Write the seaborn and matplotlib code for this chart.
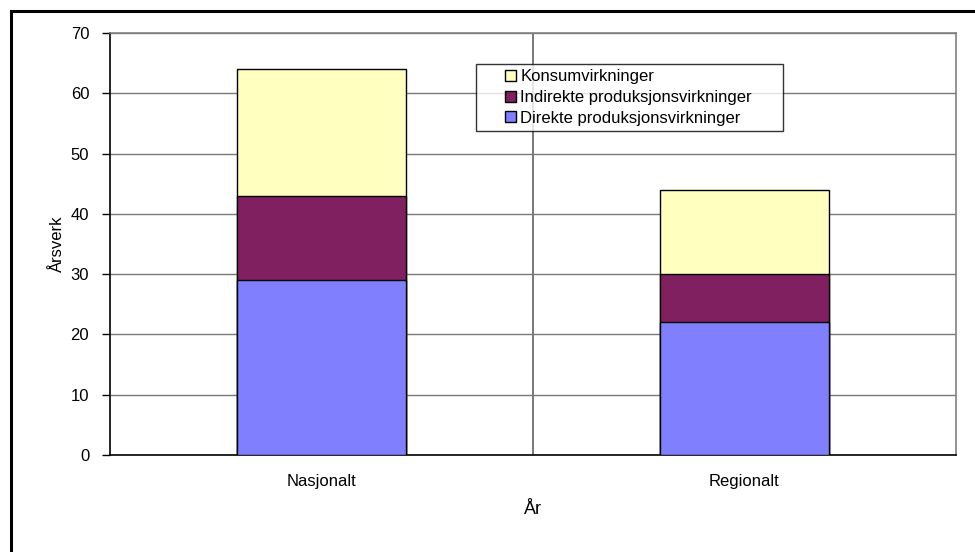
import matplotlib
matplotlib.use("Agg")
import matplotlib.pyplot as plt
from matplotlib.patches import Rectangle
from matplotlib.legend_handler import HandlerPatch
import seaborn as sns
import pandas as pd

categories = ["Nasjonalt", "Regionalt"]
direkte = [29, 22]
indirekte = [14, 8]
konsum = [21, 14]
series_names = ["Konsumvirkninger", "Indirekte produksjonsvirkninger", "Direkte produksjonsvirkninger"]
colors = {"Konsumvirkninger": "#FFFFC0",
          "Indirekte produksjonsvirkninger": "#802060",
          "Direkte produksjonsvirkninger": "#8080FF"}
yticks = [0, 10, 20, 30, 40, 50, 60, 70]

sns.set_theme(style="white")
plt.rcParams["font.family"] = ["Liberation Sans", "DejaVu Sans"]
plt.rcParams["text.color"] = "black"
plt.rcParams["axes.labelcolor"] = "black"
plt.rcParams["xtick.color"] = "black"
plt.rcParams["ytick.color"] = "black"

fig = plt.figure(figsize=(9.75, 5.52), dpi=100)
ax = fig.add_axes([110 / 975, 1 - 455 / 552, 846 / 975, 422 / 552])

# outer frame (cropped at right and bottom in the reference)
fig.patches.append(Rectangle((11 / 975, -0.1), 1.2, 1 - 11 / 552 + 0.1,
                             transform=fig.transFigure, fill=False,
                             edgecolor="black", linewidth=2.2, zorder=0))

cum_ind = [d + i for d, i in zip(direkte, indirekte)]
cum_kon = [c + k for c, k in zip(cum_ind, konsum)]
df = pd.DataFrame({"cat": categories, "Direkte": direkte,
                   "Indirekte": cum_ind, "Konsum": cum_kon})

for col, name in [("Konsum", series_names[0]), ("Indirekte", series_names[1]),
                  ("Direkte", series_names[2])]:
    sns.barplot(data=df, x="cat", y=col, order=categories, color=colors[name],
                width=0.40, edgecolor="black", linewidth=1.0, saturation=1,
                ax=ax, zorder=3)

ax.set_xlim(-0.5, 1.5)
ax.set_ylim(0, 70)
ax.set_yticks(yticks)
ax.set_yticklabels([str(v) for v in yticks], fontsize=12, color="black")
ax.set_xticks([0, 1])
ax.set_xticklabels(categories, fontsize=12, color="black")
ax.tick_params(axis="x", length=0, pad=14)
ax.tick_params(axis="y", direction="out", length=6, width=1, color="black",
               left=True, pad=9)
for v in yticks[1:]:
    ax.axhline(v, color="#787878", linewidth=1, zorder=1)
ax.axvline(0.5, color="#787878", linewidth=1.4, zorder=1)

for s in ["top", "right"]:
    ax.spines[s].set_color("#808080")
    ax.spines[s].set_linewidth(1.2)
for s in ["left", "bottom"]:
    ax.spines[s].set_color("black")
    ax.spines[s].set_linewidth(1.2)

ax.set_ylabel("Årsverk", fontsize=12, labelpad=4, color="black")
ax.set_xlabel("År", fontsize=13, labelpad=8, color="black")


def make_square(legend, orig_handle, xdescent, ydescent, width, height, fontsize):
    s = 0.66 * fontsize
    return Rectangle((-xdescent + width - s, -ydescent + (height - s) / 2), s, s)


handles = [Rectangle((0, 0), 1, 1, facecolor=colors[n], edgecolor="black", linewidth=1)
           for n in series_names]
leg = ax.legend(handles, series_names, loc="upper left",
                bbox_to_anchor=(366 / 846, 0.5, 307 / 846, (455 - 64) / 422 - 0.5),
                mode="expand", borderaxespad=0, fontsize=12, frameon=True,
                fancybox=False, shadow=False, borderpad=0.3, labelspacing=0.35,
                handlelength=2.1, handletextpad=0.25,
                handler_map={Rectangle: HandlerPatch(patch_func=make_square)})
leg.get_frame().set_edgecolor("black")
leg.get_frame().set_linewidth(1.0)
leg.set_zorder(5)
for t in leg.get_texts():
    t.set_color("black")

fig.savefig("out.png", dpi=100)
